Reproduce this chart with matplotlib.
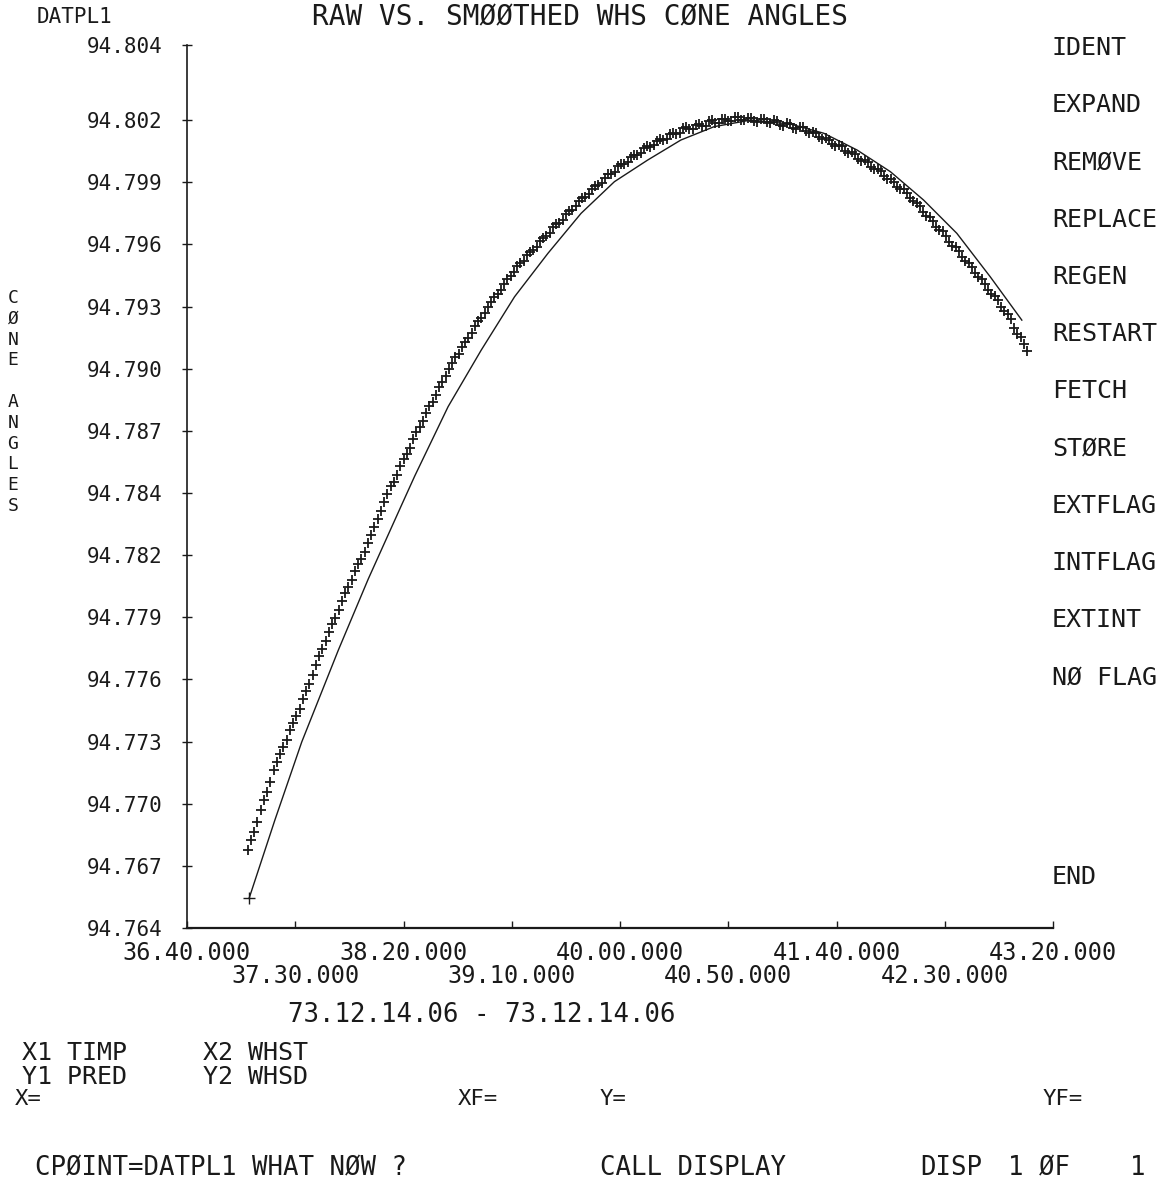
import numpy as np
import matplotlib.pyplot as plt

# Fuente monoespaciada para imitar el trazador
plt.rcParams['font.family'] = ['DejaVu Sans Mono']

# Tiempo de las muestras en segundos desde el inicio de la hora (X2 WHST), primera pasada
timp_a = [2228, 2231, 2234, 2237, 2240, 2243, 2246, 2249, 2252, 2255,
          2258, 2261, 2264, 2267, 2270, 2273, 2276, 2279, 2282, 2285,
          2288, 2291, 2294, 2297, 2300, 2303, 2306, 2309, 2312, 2315,
          2318, 2321, 2324, 2327, 2330, 2333, 2336, 2339, 2342, 2345,
          2348, 2351, 2354, 2357, 2360, 2363, 2366, 2369, 2372, 2375,
          2378, 2381, 2384, 2387, 2390, 2393, 2396, 2399, 2402, 2405,
          2408, 2411, 2414, 2417, 2420, 2423, 2426, 2429, 2432, 2435,
          2438, 2441, 2444, 2447, 2450, 2453, 2456, 2459, 2462, 2465,
          2468, 2471, 2474, 2477, 2480, 2483, 2486, 2489, 2492, 2495,
          2498, 2501, 2504, 2507, 2510, 2513, 2516, 2519, 2522, 2525,
          2528, 2531, 2534, 2537, 2540, 2543, 2546, 2549, 2552, 2555,
          2558, 2561, 2564, 2567, 2570, 2573, 2576, 2579, 2582, 2585,
          2588]

# Angulos de cono sin suavizar (Y2 WHSD), primera pasada
whsd_a = [94.76766, 94.76853, 94.76955, 94.77040, 94.77141, 94.77219, 94.77284, 94.77366, 94.77431, 94.77517,
          94.77589, 94.77679, 94.77750, 94.77832, 94.77896, 94.77977, 94.78038, 94.78112, 94.78169, 94.78247,
          94.78322, 94.78403, 94.78477, 94.78531, 94.78604, 94.78658, 94.78731, 94.78784, 94.78853, 94.78905,
          94.78968, 94.79028, 94.79086, 94.79133, 94.79174, 94.79230, 94.79271, 94.79323, 94.79366, 94.79401,
          94.79452, 94.79487, 94.79529, 94.79564, 94.79589, 94.79631, 94.79655, 94.79696, 94.79718, 94.79758,
          94.79779, 94.79818, 94.79838, 94.79876, 94.79893, 94.79929, 94.79948, 94.79983, 94.79993, 94.80025,
          94.80035, 94.80067, 94.80074, 94.80103, 94.80106, 94.80134, 94.80136, 94.80162, 94.80156, 94.80178,
          94.80171, 94.80194, 94.80186, 94.80205, 94.80194, 94.80213, 94.80201, 94.80212, 94.80196, 94.80207,
          94.80189, 94.80199, 94.80179, 94.80184, 94.80163, 94.80168, 94.80148, 94.80146, 94.80119, 94.80115,
          94.80088, 94.80084, 94.80056, 94.80048, 94.80018, 94.80011, 94.79981, 94.79971, 94.79936, 94.79923,
          94.79887, 94.79874, 94.79834, 94.79811, 94.79767, 94.79743, 94.79699, 94.79676, 94.79628, 94.79601,
          94.79555, 94.79528, 94.79481, 94.79451, 94.79401, 94.79371, 94.79322, 94.79290, 94.79224, 94.79178,
          94.79114]

# Segunda pasada de muestras, intercaladas con la primera
timp_b = [2229.5, 2232.5, 2235.5, 2238.5, 2241.5, 2244.5, 2247.5, 2250.5, 2253.5, 2256.5,
          2259.5, 2262.5, 2265.5, 2268.5, 2271.5, 2274.5, 2277.5, 2280.5, 2283.5, 2286.5,
          2289.5, 2292.5, 2295.5, 2298.5, 2301.5, 2304.5, 2307.5, 2310.5, 2313.5, 2316.5,
          2319.5, 2322.5, 2325.5, 2328.5, 2331.5, 2334.5, 2337.5, 2340.5, 2343.5, 2346.5,
          2349.5, 2352.5, 2355.5, 2358.5, 2361.5, 2364.5, 2367.5, 2370.5, 2373.5, 2376.5,
          2379.5, 2382.5, 2385.5, 2388.5, 2391.5, 2394.5, 2397.5, 2400.5, 2403.5, 2406.5,
          2409.5, 2412.5, 2415.5, 2418.5, 2421.5, 2424.5, 2427.5, 2430.5, 2433.5, 2436.5,
          2439.5, 2442.5, 2445.5, 2448.5, 2451.5, 2454.5, 2457.5, 2460.5, 2463.5, 2466.5,
          2469.5, 2472.5, 2475.5, 2478.5, 2481.5, 2484.5, 2487.5, 2490.5, 2493.5, 2496.5,
          2499.5, 2502.5, 2505.5, 2508.5, 2511.5, 2514.5, 2517.5, 2520.5, 2523.5, 2526.5,
          2529.5, 2532.5, 2535.5, 2538.5, 2541.5, 2544.5, 2547.5, 2550.5, 2553.5, 2556.5,
          2559.5, 2562.5, 2565.5, 2568.5, 2571.5, 2574.5, 2577.5, 2580.5, 2583.5, 2586.5]

whsd_b = [94.76812, 94.76900, 94.77001, 94.77087, 94.77180, 94.77249, 94.77329, 94.77396, 94.77478, 94.77549,
          94.77637, 94.77711, 94.77794, 94.77860, 94.77940, 94.78004, 94.78078, 94.78137, 94.78209, 94.78286,
          94.78363, 94.78443, 94.78500, 94.78572, 94.78628, 94.78699, 94.78754, 94.78822, 94.78876, 94.78944,
          94.78997, 94.79059, 94.79101, 94.79158, 94.79199, 94.79255, 94.79294, 94.79345, 94.79380, 94.79431,
          94.79465, 94.79512, 94.79538, 94.79580, 94.79605, 94.79647, 94.79671, 94.79711, 94.79732, 94.79772,
          94.79794, 94.79833, 94.79851, 94.79889, 94.79906, 94.79944, 94.79958, 94.79994, 94.80002, 94.80036,
          94.80044, 94.80077, 94.80081, 94.80110, 94.80112, 94.80141, 94.80141, 94.80166, 94.80159, 94.80182,
          94.80174, 94.80198, 94.80187, 94.80207, 94.80195, 94.80215, 94.80199, 94.80211, 94.80193, 94.80205,
          94.80186, 94.80196, 94.80174, 94.80180, 94.80158, 94.80165, 94.80140, 94.80139, 94.80110, 94.80108,
          94.80079, 94.80076, 94.80045, 94.80040, 94.80009, 94.80003, 94.79970, 94.79959, 94.79923, 94.79910,
          94.79874, 94.79859, 94.79817, 94.79795, 94.79749, 94.79727, 94.79681, 94.79657, 94.79609, 94.79583,
          94.79536, 94.79510, 94.79461, 94.79431, 94.79381, 94.79352, 94.79301, 94.79262, 94.79196, 94.79149]

# Curva suavizada (X1 TIMP / Y1 PRED)
timp_pred = [2228.7, 2240.6, 2253.0, 2269.9, 2283.7, 2299.1, 2305.2, 2320.6, 2335.9, 2351.3,
             2366.7, 2382.0, 2397.4, 2412.8, 2428.1, 2443.5, 2460.4, 2478.8, 2494.1, 2509.5,
             2524.9, 2540.2, 2555.6, 2571.0, 2585.6]
pred = [94.76540, 94.76908, 94.77275, 94.77707, 94.78041, 94.78389, 94.78526, 94.78852, 94.79118, 94.79369,
        94.79573, 94.79761, 94.79910, 94.80012, 94.80106, 94.80169, 94.80200, 94.80181, 94.80138, 94.80059,
        94.79957, 94.79824, 94.79667, 94.79463, 94.79259]

# Etiquetas de los ejes
ytick_labels = ['94.764', '94.767', '94.770', '94.773', '94.776', '94.779', '94.782', '94.784',
                '94.787', '94.790', '94.793', '94.796', '94.799', '94.802', '94.804']
xtick_top = ['36.40.000', '38.20.000', '40.00.000', '41.40.000', '43.20.000']
xtick_bottom = ['37.30.000', '39.10.000', '40.50.000', '42.30.000']

# Menu de la derecha
menu = ['IDENT', 'EXPAND', 'REMØVE', 'REPLACE', 'REGEN', 'RESTART',
        'FETCH', 'STØRE', 'EXTFLAG', 'INTFLAG', 'EXTINT', 'NØ FLAG']

W, H = 1165, 1189
ink = '#1a1a1a'


def fx(x):
    return x / W


def fy(y):
    return 1 - y / H


def to_sec(label):
    m, s = label.split('.')[:2]
    return int(m) * 60 + int(s)


fig = plt.figure(figsize=(W / 100, H / 100), dpi=100)
ax = fig.add_axes([fx(187), fy(928), 866 / W, 883 / H])

# Datos sin suavizar como cruces, y la curva suavizada como linea
ax.plot(timp_a + timp_b, whsd_a + whsd_b, linestyle='none', marker='+', markersize=7,
        markeredgewidth=1.3, color=ink)
ax.plot(timp_pred, pred, color=ink, linewidth=1.0)
ax.plot(timp_pred[0], pred[0], marker='+', markersize=8, markeredgewidth=1.0, color=ink)

ax.set_xlim(to_sec(xtick_top[0]), to_sec(xtick_top[-1]))
ax.set_ylim(94.764, 94.80553)

# Marcas del eje Y
yticks = list(np.linspace(94.764, 94.802, 14)) + [94.80553]
ax.set_yticks(yticks)
ax.set_yticklabels(ytick_labels, fontsize=15, color=ink)
ax.tick_params(axis='y', direction='inout', length=7, width=1.0, pad=14, colors=ink)

# Marcas del eje X en dos filas
ax.set_xticks([to_sec(t) for t in xtick_top])
ax.set_xticklabels(xtick_top, fontsize=17, color=ink)
ax.set_xticks([to_sec(t) for t in xtick_bottom], minor=True)
ax.set_xticklabels(xtick_bottom, minor=True, fontsize=17, color=ink)
ax.tick_params(axis='x', which='major', direction='in', length=5, width=1.0, pad=9, colors=ink)
ax.tick_params(axis='x', which='minor', direction='in', length=5, width=1.0, pad=26, colors=ink)

for side in ['top', 'right']:
    ax.spines[side].set_visible(False)
ax.spines['left'].set_linewidth(1.2)
ax.spines['bottom'].set_linewidth(1.6)
ax.spines['left'].set_color(ink)
ax.spines['bottom'].set_color(ink)

# Titulos
fig.text(fx(37), fy(17), 'DATPL1', fontsize=15, va='center', ha='left', color=ink)
fig.text(fx(580), fy(17), 'RAW VS. SMØØTHED WHS CØNE ANGLES', fontsize=20, va='center', ha='center', color=ink)
fig.text(fx(13), fy(402), '\n'.join('CØNE ANGLES'), fontsize=13, va='center', ha='center',
         linespacing=1.2, color=ink)

# Menu
for i, item in enumerate(menu):
    fig.text(fx(1052), fy(48 + 57.2 * i), item, fontsize=18, va='center', ha='left', color=ink)
fig.text(fx(1052), fy(877), 'END', fontsize=18, va='center', ha='left', color=ink)

# Textos inferiores
fig.text(fx(482), fy(1015), '73.12.14.06 - 73.12.14.06', fontsize=18.5, va='center', ha='center', color=ink)
fig.text(fx(22), fy(1053), 'X1 TIMP', fontsize=18, va='center', ha='left', color=ink)
fig.text(fx(203), fy(1053), 'X2 WHST', fontsize=18, va='center', ha='left', color=ink)
fig.text(fx(22), fy(1077), 'Y1 PRED', fontsize=18, va='center', ha='left', color=ink)
fig.text(fx(203), fy(1077), 'Y2 WHSD', fontsize=18, va='center', ha='left', color=ink)
fig.text(fx(15), fy(1099), 'X=', fontsize=16, va='center', ha='left', color=ink)
fig.text(fx(458), fy(1099), 'XF=', fontsize=16, va='center', ha='left', color=ink)
fig.text(fx(600), fy(1099), 'Y=', fontsize=16, va='center', ha='left', color=ink)
fig.text(fx(1043), fy(1099), 'YF=', fontsize=16, va='center', ha='left', color=ink)
fig.text(fx(35), fy(1168), 'CPØINT=DATPL1 WHAT NØW ?', fontsize=18.5, va='center', ha='left', color=ink)
fig.text(fx(600), fy(1168), 'CALL DISPLAY', fontsize=18.5, va='center', ha='left', color=ink)
fig.text(fx(920), fy(1168), 'DISP', fontsize=18.5, va='center', ha='left', color=ink)
fig.text(fx(1008), fy(1168), '1 ØF', fontsize=18.5, va='center', ha='left', color=ink)
fig.text(fx(1130), fy(1168), '1', fontsize=18.5, va='center', ha='left', color=ink)

fig.savefig('out.png', dpi=100)
